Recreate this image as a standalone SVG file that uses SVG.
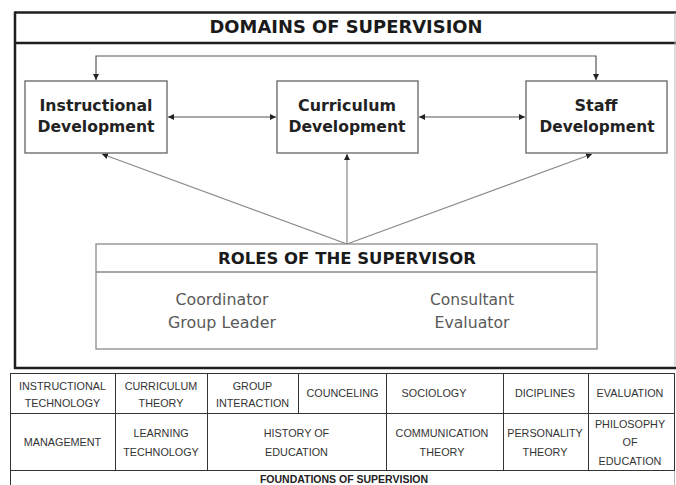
<svg xmlns="http://www.w3.org/2000/svg" width="676" height="485" viewBox="0 0 676 485">
<defs>
<marker id="ah" viewBox="0 0 10 10" refX="10" refY="5" markerWidth="6" markerHeight="6" markerUnits="userSpaceOnUse" orient="auto-start-reverse">
<path d="M0,0 L10,5 L0,10 Z" fill="#222"/>
</marker>
<style>
.frame{fill:none;stroke:#1e1e1e;stroke-width:2.5}
.box{fill:#fff;stroke:#6e6e6e;stroke-width:1.4}
.rbox{fill:#fff;stroke:#8a8a8a;stroke-width:1.3}
.conn{fill:none;stroke:#555;stroke-width:1.2}
.conn2{fill:none;stroke:#888;stroke-width:1.2}
.title{font-family:"DejaVu Sans",sans-serif;font-weight:bold;fill:#1a1a1a;text-anchor:middle}
.dom{font-family:"DejaVu Sans",sans-serif;font-weight:bold;font-size:15px;fill:#222;text-anchor:middle}
.role{font-family:"DejaVu Sans",sans-serif;font-size:15px;fill:#5a5a5a;text-anchor:middle}
.tl{stroke:#333;stroke-width:1;fill:none}
.tt{font-family:"Liberation Sans",Arial,sans-serif;font-size:10.8px;fill:#333;text-anchor:middle}
.tb{font-family:"Liberation Sans",Arial,sans-serif;font-size:10.5px;font-weight:bold;fill:#222;text-anchor:middle}
</style>
</defs>
<rect width="676" height="485" fill="#fff"/>

<g id="frame">
<line x1="15" y1="12.5" x2="676" y2="12.5" class="frame"/>
<line x1="15" y1="43" x2="676" y2="43" class="frame"/>
<line x1="15" y1="11.5" x2="15" y2="369" class="frame"/>
<line x1="14" y1="368" x2="676" y2="368" class="frame"/>
<line x1="675" y1="13" x2="675" y2="367" stroke="#bbb" stroke-width="1"/>
<text class="title" x="346" y="33" font-size="18" textLength="273" lengthAdjust="spacingAndGlyphs">DOMAINS OF SUPERVISION</text>
</g>

<g id="connectors">
<path class="conn" d="M96,80 V56 H596 V80" marker-start="url(#ah)" marker-end="url(#ah)"/>
<path class="conn" d="M168,117 H276" marker-start="url(#ah)" marker-end="url(#ah)"/>
<path class="conn" d="M419,117 H525" marker-start="url(#ah)" marker-end="url(#ah)"/>
<path class="conn2" d="M347,244 L102,154" marker-end="url(#ah)"/>
<path class="conn2" d="M347,244 V154" marker-end="url(#ah)"/>
<path class="conn2" d="M347,244 L592,154" marker-end="url(#ah)"/>
</g>

<g id="instructional">
<rect class="box" x="25" y="81" width="142" height="72"/>
<text class="dom" x="96" y="111" textLength="113" lengthAdjust="spacingAndGlyphs">Instructional</text>
<text class="dom" x="96" y="132" textLength="117" lengthAdjust="spacingAndGlyphs">Development</text>
</g>

<g id="curriculum">
<rect class="box" x="277" y="81" width="141" height="72"/>
<text class="dom" x="347" y="111" textLength="98" lengthAdjust="spacingAndGlyphs">Curriculum</text>
<text class="dom" x="347" y="132" textLength="117" lengthAdjust="spacingAndGlyphs">Development</text>
</g>

<g id="staff">
<rect class="box" x="526" y="81" width="141" height="72"/>
<text class="dom" x="596" y="111" textLength="43" lengthAdjust="spacingAndGlyphs">Staff</text>
<text class="dom" x="597" y="132" textLength="115" lengthAdjust="spacingAndGlyphs">Development</text>
</g>

<g id="roles">
<rect class="rbox" x="96" y="244" width="501" height="105"/>
<line x1="96" y1="272" x2="597" y2="272" stroke="#8a8a8a" stroke-width="1.3"/>
<text class="title" x="347" y="264" font-size="16.5" textLength="258" lengthAdjust="spacingAndGlyphs">ROLES OF THE SUPERVISOR</text>
<text class="role" x="222" y="305" textLength="93" lengthAdjust="spacingAndGlyphs">Coordinator</text>
<text class="role" x="222" y="328" textLength="108" lengthAdjust="spacingAndGlyphs">Group Leader</text>
<text class="role" x="472" y="305" textLength="84" lengthAdjust="spacingAndGlyphs">Consultant</text>
<text class="role" x="472" y="328" textLength="75" lengthAdjust="spacingAndGlyphs">Evaluator</text>
</g>

<g id="foundations">
<line class="tl" x1="10" y1="373.5" x2="675" y2="373.5"/>
<line class="tl" x1="10" y1="413.5" x2="675" y2="413.5"/>
<line class="tl" x1="10" y1="470.5" x2="675" y2="470.5"/>
<line class="tl" x1="10.5" y1="373" x2="10.5" y2="485"/>
<line class="tl" x1="674.5" y1="373" x2="674.5" y2="471"/>
<line x1="674.5" y1="471" x2="674.5" y2="485" stroke="#bbb" stroke-width="1"/>
<line class="tl" x1="115.5" y1="373" x2="115.5" y2="471"/>
<line class="tl" x1="207.5" y1="373" x2="207.5" y2="471"/>
<line class="tl" x1="298.5" y1="373" x2="298.5" y2="414"/>
<line class="tl" x1="386.5" y1="373" x2="386.5" y2="471"/>
<line class="tl" x1="503.5" y1="373" x2="503.5" y2="471"/>
<line class="tl" x1="588.5" y1="373" x2="588.5" y2="471"/>

<text class="tt" x="62.5" y="390">INSTRUCTIONAL</text>
<text class="tt" x="62.5" y="407">TECHNOLOGY</text>
<text class="tt" x="161" y="390">CURRICULUM</text>
<text class="tt" x="161" y="407">THEORY</text>
<text class="tt" x="252.5" y="390">GROUP</text>
<text class="tt" x="252.5" y="407">INTERACTION</text>
<text class="tt" x="342.5" y="397">COUNCELING</text>
<text class="tt" x="434" y="397">SOCIOLOGY</text>
<text class="tt" x="545" y="397">DICIPLINES</text>
<text class="tt" x="630" y="397">EVALUATION</text>

<text class="tt" x="62.5" y="446">MANAGEMENT</text>
<text class="tt" x="161" y="437">LEARNING</text>
<text class="tt" x="161" y="456">TECHNOLOGY</text>
<text class="tt" x="296.5" y="437">HISTORY OF</text>
<text class="tt" x="296.5" y="456">EDUCATION</text>
<text class="tt" x="442" y="437">COMMUNICATION</text>
<text class="tt" x="442" y="456">THEORY</text>
<text class="tt" x="545" y="437">PERSONALITY</text>
<text class="tt" x="545" y="456">THEORY</text>
<text class="tt" x="630" y="428">PHILOSOPHY</text>
<text class="tt" x="630" y="446">OF</text>
<text class="tt" x="630" y="465">EDUCATION</text>

<text class="tb" x="344" y="482.5">FOUNDATIONS OF SUPERVISION</text>
</g>
</svg>
